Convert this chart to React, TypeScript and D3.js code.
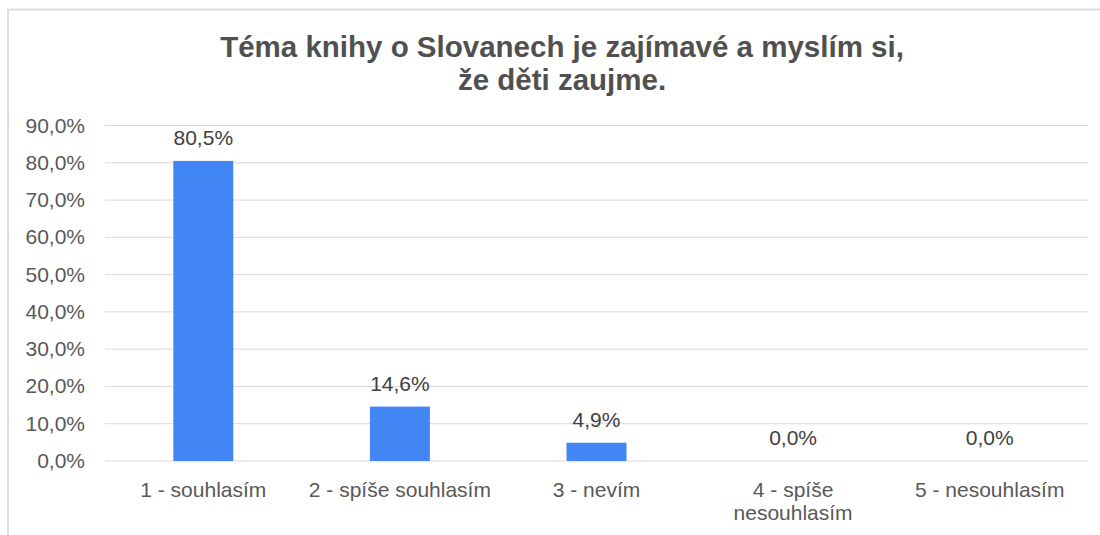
import React from "react";
import * as d3 from "d3";

const titleLines = ["Téma knihy o Slovanech je zajímavé a myslím si,", "že děti zaujme."];
const categories = ["1 - souhlasím", "2 - spíše souhlasím", "3 - nevím", "4 - spíše nesouhlasím", "5 - nesouhlasím"];
const values = [0.805, 0.146, 0.049, 0.0, 0.0];
const yTicks = [0, 0.1, 0.2, 0.3, 0.4, 0.5, 0.6, 0.7, 0.8, 0.9];

const W = 1100;
const H = 535;
const FONT = "'Liberation Sans', Arial, sans-serif";
const TEXT = "#595959";

function fmt(v: number, digits: number) {
  return (v * 100).toFixed(digits).replace(".", ",") + "%";
}

function wrap(label: string, maxW: number, size: number): string[] {
  const c = document.createElement("canvas").getContext("2d")!;
  c.font = `${size}px ${FONT}`;
  const words = label.split(" ");
  const lines: string[] = [];
  let cur = "";
  for (const w of words) {
    const t = cur ? cur + " " + w : w;
    if (c.measureText(t).width > maxW && cur) {
      lines.push(cur);
      cur = w;
    } else cur = t;
  }
  if (cur) lines.push(cur);
  return lines;
}

export default function App() {
  const x = d3.scaleBand<string>().domain(categories).range([105, 1088]).paddingInner(0.695).paddingOuter(0.3475);
  const y = d3.scaleLinear().domain([0, 0.9]).range([461, 125.5]);
  return (
    <svg width={W} height={H} style={{ position: "absolute", left: 0, top: 0, background: "#fff" }} fontFamily={FONT}>
      <line x1={8} x2={8} y1={9} y2={535} stroke="#dcdcdc" strokeWidth={2} />
      <line x1={7} x2={1100} y1={9.5} y2={9.5} stroke="#dcdcdc" strokeWidth={2} />
      {titleLines.map((t, i) => (
        <text key={i} x={562} y={57 + i * 33} textAnchor="middle" fontSize={29.5} fontWeight="bold" fill="#505050">
          {t}
        </text>
      ))}
      {yTicks.map((t) => (
        <g key={t}>
          <line x1={105} x2={1088} y1={y(t)} y2={y(t)} stroke="#d9d9d9" strokeWidth={1} />
          <text x={85} y={y(t) + 7} textAnchor="end" fontSize={21} fill={TEXT}>
            {fmt(t, 1)}
          </text>
        </g>
      ))}
      {categories.map((c, i) => {
        const cx = x(c)! + x.bandwidth() / 2;
        const lines = wrap(c, x.step() - 2, 21);
        return (
          <g key={c}>
            <rect x={x(c)} y={y(values[i])} width={x.bandwidth()} height={y(0) - y(values[i])} fill="#4285f4" />
            <text x={cx} y={y(values[i]) - 16} textAnchor="middle" fontSize={21} fill="#404040">
              {fmt(values[i], 1)}
            </text>
            {lines.map((l, j) => (
              <text key={j} x={cx} y={497 + j * 23} textAnchor="middle" fontSize={21} fill={TEXT}>
                {l}
              </text>
            ))}
          </g>
        );
      })}
    </svg>
  );
}
